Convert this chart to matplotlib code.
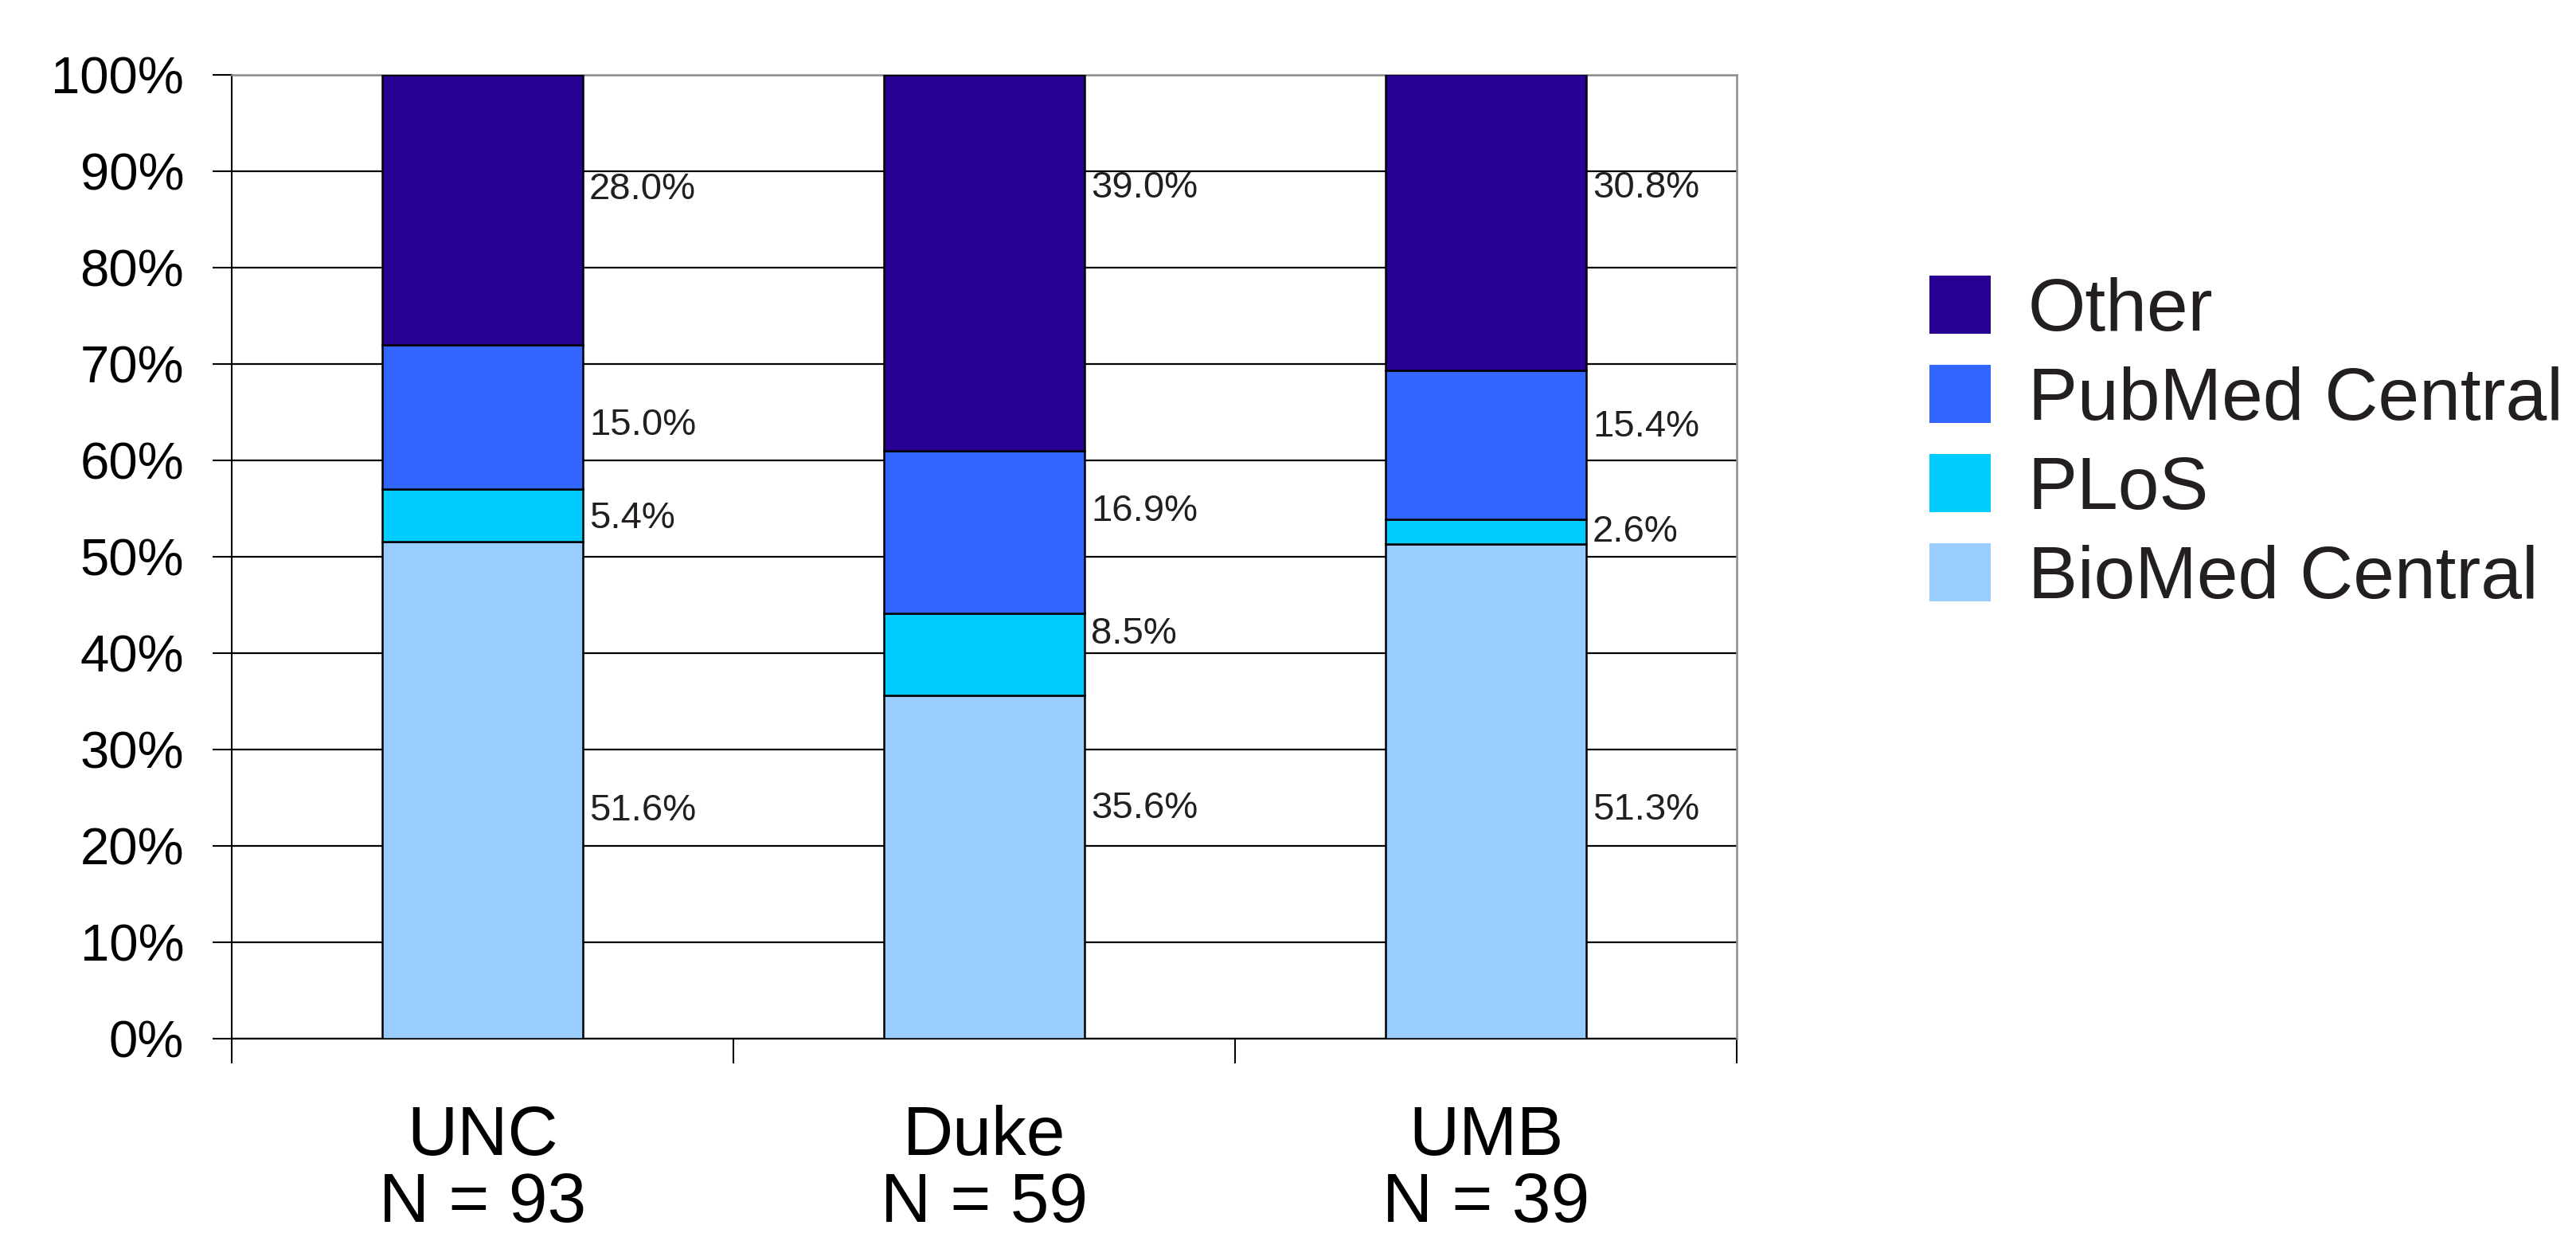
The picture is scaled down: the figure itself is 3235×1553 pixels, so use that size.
import matplotlib
matplotlib.use("Agg")
import matplotlib.pyplot as plt
from matplotlib.patches import Patch
import numpy as np

plt.rcParams['font.family'] = ['Liberation Sans', 'DejaVu Sans']

categories = ["UNC", "Duke", "UMB"]
sample_sizes = [93, 59, 39]
series_names = ["BioMed Central", "PLoS", "PubMed Central", "Other"]
biomed = [51.6, 35.6, 51.3]
plos = [5.4, 8.5, 2.6]
pubmed = [15.0, 16.9, 15.4]
other = [28.0, 39.0, 30.8]
# vertical anchor (in % units) where each value label sits in the original
label_y_biomed = [23.6, 23.9, 23.7]
label_y_plos = [54.0, 42.0, 52.6]
label_y_pubmed = [63.6, 54.7, 63.5]
label_y_other = [88.1, 88.3, 88.3]

colors = ["#99CCFF", "#00CCFF", "#3366FF", "#280092"]
text_color = "#231f20"

W, H = 3235, 1553
fig = plt.figure(figsize=(W / 100, H / 100), dpi=100)
ax = fig.add_axes([291 / W, 1 - 1304 / H, (2181 - 291) / W, (1304 - 94) / H])

x = np.arange(len(categories))
series = [biomed, plos, pubmed, other]
label_ys = [label_y_biomed, label_y_plos, label_y_pubmed, label_y_other]
bottom = np.zeros(len(categories))
bar_w = 0.4
for vals, col, name in zip(series, colors, series_names):
    ax.bar(x, vals, bar_w, bottom=bottom, color=col, edgecolor="black",
           linewidth=1.8, label=name, zorder=3)
    bottom += np.array(vals)

for vals, ys in zip(series, label_ys):
    for xi, v, yy in zip(x, vals, ys):
        ax.annotate(f"{v:.1f}%", xy=(xi + bar_w / 2, yy), xytext=(8, 0),
                    textcoords="offset pixels", ha="left", va="center",
                    fontsize=34, color=text_color, zorder=4)

ax.set_xlim(-0.5, 2.5)
ax.set_ylim(0, 100)
ax.set_yticks(np.arange(0, 101, 10))
ax.set_yticklabels([f"{v}%" for v in range(0, 101, 10)], fontsize=47, color="black")
ax.yaxis.grid(True, color="black", linewidth=1.6)
ax.set_axisbelow(True)

ax.set_xticks([-0.5, 0.5, 1.5, 2.5])
ax.set_xticklabels([])
ax.tick_params(axis="x", direction="out", length=22, width=1.5, color="black")
ax.tick_params(axis="y", direction="out", length=17, width=1.5, color="black", pad=26)

for side in ["top", "right"]:
    ax.spines[side].set_color("#8c8c8c")
    ax.spines[side].set_linewidth(1.8)
    ax.spines[side].set_zorder(2.6)
ax.spines["left"].set_color("black")
ax.spines["left"].set_linewidth(1.5)
ax.spines["bottom"].set_color("black")
ax.spines["bottom"].set_linewidth(1.6)

tr = ax.get_xaxis_transform()
for xi, cat, n in zip(x, categories, sample_sizes):
    ax.text(xi, (1304 - 1534) / 1210, f"{cat}\nN = {n}", transform=tr,
            ha="center", va="baseline", multialignment="center",
            fontsize=63, linespacing=1.05, color="black", clip_on=False)

handles = [Patch(facecolor=c, edgecolor="none") for c in colors][::-1]
labels = series_names[::-1]
leg = fig.legend(handles, labels, loc="upper left",
                 bbox_to_anchor=(2423 / W, 1 - 346 / H), frameon=False,
                 fontsize=67, handlelength=0.83, handleheight=0.83,
                 handletextpad=0.5, labelspacing=0.26, borderpad=0,
                 borderaxespad=0)
for t in leg.get_texts():
    t.set_color(text_color)

fig.savefig("out.png", dpi=100, facecolor="white")
